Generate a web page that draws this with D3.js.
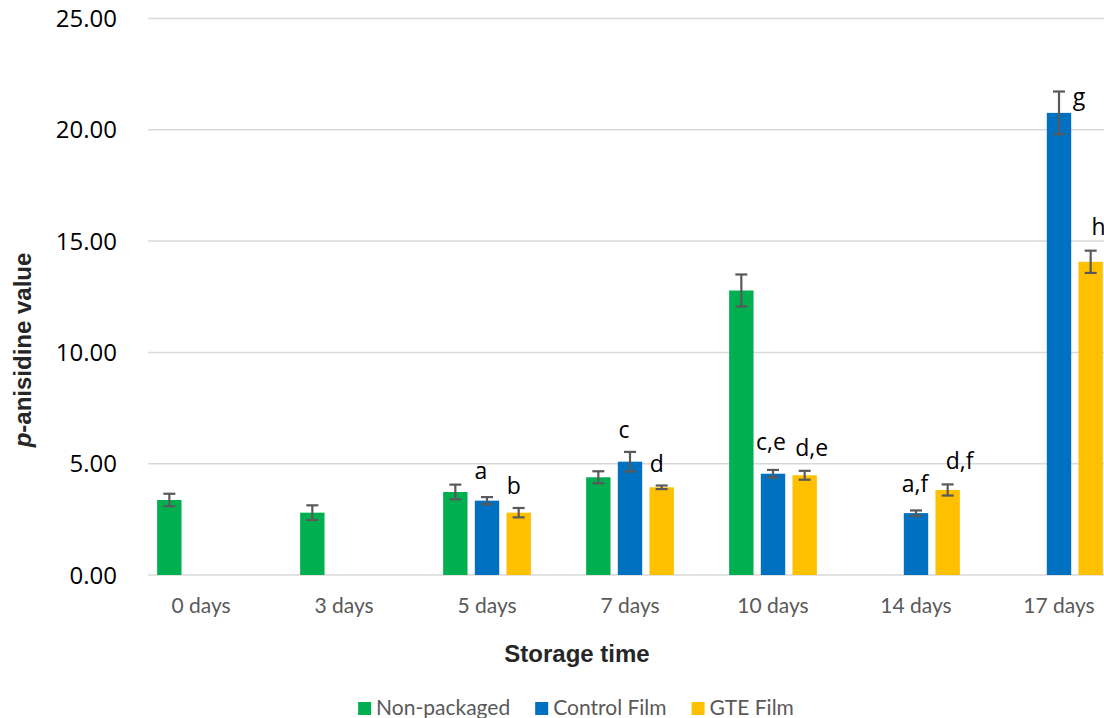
<!DOCTYPE html>
<html>
<head>
<meta charset="utf-8">
<script src="https://cdn.jsdelivr.net/npm/d3@7"></script>
<style>
  html, body { margin: 0; padding: 0; background: #fff; }
  svg { display: block; }
</style>
</head>
<body>
<div id="chart"></div>
<script>
// Storage-time categories
const categories = ["0 days", "3 days", "5 days", "7 days", "10 days", "14 days", "17 days"];
const seriesNames = ["Non-packaged", "Control Film", "GTE Film"];
const seriesColors = ["#00B050", "#0070C0", "#FFC000"];

// p-anisidine values (mean) per series, null where not measured
const nonPackaged    = [3.37, 2.80, 3.73, 4.39, 12.78, null, null];
const nonPackagedErr = [0.28, 0.33, 0.33, 0.27, 0.72, null, null];
const controlFilm    = [null, null, 3.34, 5.09, 4.55, 2.78, 20.76];
const controlFilmErr = [null, null, 0.16, 0.44, 0.17, 0.12, 0.96];
const gteFilm        = [null, null, 2.80, 3.94, 4.48, 3.82, 14.07];
const gteFilmErr     = [null, null, 0.21, 0.08, 0.20, 0.25, 0.50];

// Significance letters
const controlLetters = [null, null, "a", "c", "c,e", "a,f", "g"];
const gteLetters     = [null, null, "b", "d", "d,e", "d,f", "h"];

const yTicks = [0, 5, 10, 15, 20, 25];

const W = 1104, H = 718;
const svg = d3.select("#chart").append("svg").attr("width", W).attr("height", H);

const y = d3.scaleLinear().domain([0, 25]).range([575, 18.5]);
const x = d3.scaleBand().domain(categories).range([129.5, 1130.5]).padding(0);
const xs = d3.scaleBand().domain(seriesNames).range([-47.5, 47.5])
  .paddingInner(0.23).paddingOuter(0.115);

// Gridlines
svg.append("g").selectAll("line").data(yTicks).join("line")
  .attr("x1", 148).attr("x2", W)
  .attr("y1", d => y(d)).attr("y2", d => y(d))
  .attr("stroke", "#d9d9d9").attr("stroke-width", 1.5);

// Y axis tick labels
const yAxis = d3.axisLeft(y).tickValues(yTicks).tickFormat(d3.format(".2f")).tickSize(0).tickPadding(0);
const yg = svg.append("g").attr("transform", "translate(117,0)").call(yAxis);
yg.select(".domain").remove();
yg.selectAll("text")
  .attr("font-family", "'Open Sans', sans-serif").attr("font-size", 24)
  .attr("fill", "#000").attr("dy", "0.34em");

// X axis labels
const xAxis = d3.axisBottom(x).tickSize(0).tickPadding(0);
const xg = svg.append("g").attr("transform", "translate(0,613)").call(xAxis);
xg.select(".domain").remove();
xg.selectAll("text")
  .attr("font-family", "Lato, sans-serif").attr("font-size", 21)
  .attr("fill", "#595959").attr("dy", 0).attr("y", 0);

// Flatten series into bar records
const seriesData = [
  { name: seriesNames[0], vals: nonPackaged, errs: nonPackagedErr, letters: null },
  { name: seriesNames[1], vals: controlFilm, errs: controlFilmErr, letters: controlLetters },
  { name: seriesNames[2], vals: gteFilm, errs: gteFilmErr, letters: gteLetters }
];
const bars = [];
seriesData.forEach((s, si) => {
  s.vals.forEach((v, ci) => {
    if (v == null) return;
    bars.push({
      cat: categories[ci], series: s.name, color: seriesColors[si],
      value: v, err: s.errs[ci], letter: s.letters ? s.letters[ci] : null
    });
  });
});
const cx = d => x(d.cat) + x.bandwidth() / 2 + xs(d.series) + xs.bandwidth() / 2;

svg.append("g").selectAll("rect").data(bars).join("rect")
  .attr("x", d => x(d.cat) + x.bandwidth() / 2 + xs(d.series))
  .attr("width", xs.bandwidth())
  .attr("y", d => y(d.value))
  .attr("height", d => y(0) - y(d.value))
  .attr("fill", d => d.color);

// Error bars
const eg = svg.append("g").attr("stroke", "#595959").attr("stroke-width", 2.2);
bars.forEach(d => {
  const c = cx(d), t = y(d.value + d.err), b = y(d.value - d.err);
  eg.append("line").attr("x1", c).attr("x2", c).attr("y1", t).attr("y2", b);
  eg.append("line").attr("x1", c - 6).attr("x2", c + 6).attr("y1", t).attr("y2", t);
  eg.append("line").attr("x1", c - 6).attr("x2", c + 6).attr("y1", b).attr("y2", b);
});

// Letter placement tweaks (dx from bar centre, dy from error-bar top to baseline)
const letterNudge = {
  "a": [-6, -18], "b": [-5, -14], "c": [-6, -14], "d": [-5, -14],
  "c,e": [-2, -20], "d,e": [7, -15], "a,f": [-1, -18], "d,f": [12, -15],
  "g": [20, 13], "h": [8, -16]
};
svg.append("g").selectAll("text").data(bars.filter(d => d.letter)).join("text")
  .attr("x", d => cx(d) + (letterNudge[d.letter] || [0, -15])[0])
  .attr("y", d => y(d.value + d.err) + (letterNudge[d.letter] || [0, -15])[1])
  .attr("text-anchor", "middle")
  .attr("font-family", "'Open Sans', sans-serif").attr("font-size", 23)
  .attr("fill", "#000")
  .text(d => d.letter);

// Axis titles
svg.append("text")
  .attr("x", 577).attr("y", 662).attr("text-anchor", "middle")
  .attr("font-family", "'Liberation Sans', Arial, sans-serif").attr("font-weight", "bold")
  .attr("font-size", 24).attr("fill", "#262626")
  .text("Storage time");

const yt = svg.append("text")
  .attr("transform", "translate(31,350) rotate(-90)").attr("text-anchor", "middle")
  .attr("font-family", "'Liberation Sans', Arial, sans-serif").attr("font-weight", "bold")
  .attr("font-size", 24).attr("fill", "#262626");
yt.append("tspan").attr("font-style", "italic").text("p");
yt.append("tspan").text("-anisidine value");

// Legend
const legendGap = 25;
const lg = svg.append("g");
let lx = 0;
seriesNames.forEach((name, i) => {
  const item = lg.append("g").attr("transform", `translate(${lx},0)`);
  item.append("rect").attr("x", 0).attr("y", 702).attr("width", 13).attr("height", 13)
    .attr("fill", seriesColors[i]);
  const t = item.append("text").attr("x", 18).attr("y", 715)
    .attr("font-family", "Lato, sans-serif").attr("font-size", 21).attr("fill", "#595959")
    .text(name);
  lx += 18 + t.node().getComputedTextLength() + legendGap;
});
const legendW = lx - legendGap;
lg.attr("transform", `translate(${576 - legendW / 2},0)`);
</script>
</body>
</html>
